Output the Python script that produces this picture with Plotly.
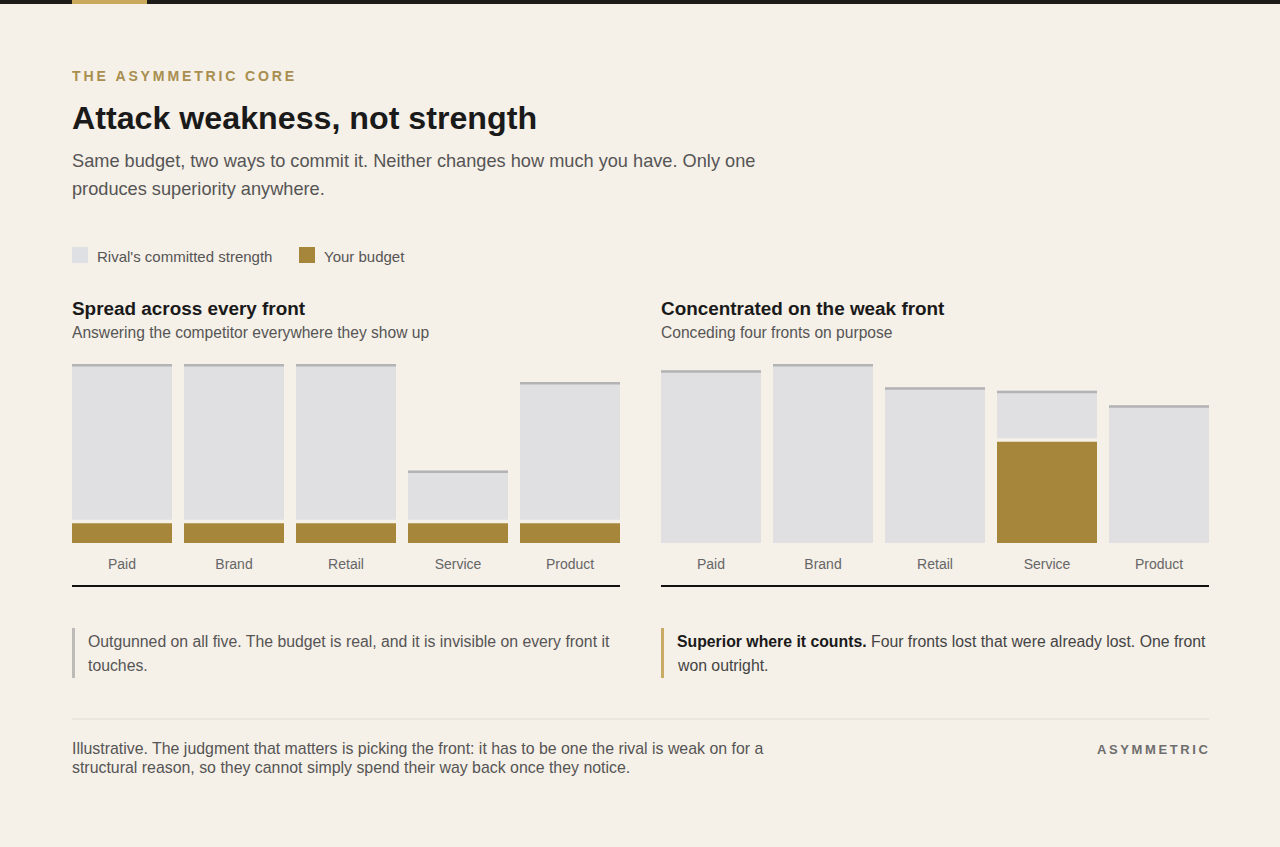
import plotly.graph_objects as go

# ---------------- data ----------------
fronts = ["Paid", "Brand", "Retail", "Service", "Product"]
# Spread across every front
spread_rival = [100, 100, 100, 40.5, 90]
spread_budget = [11, 11, 11, 11, 11]
# Concentrated on the weak front
conc_rival = [96.5, 100, 87, 85, 77]
conc_budget = [0, 0, 0, 56.5, 0]

legend_labels = ["Rival's committed strength", "Your budget"]

W, H = 1280, 847
BG = "#f5f0e8"
GRAY = "#e0e0e2"
CAP = "#b3b3b6"
GOLD = "#a5863a"
DARK = "#1a1a1a"
MID = "#555555"
FONT = "Liberation Sans, Arial, sans-serif"
CAP_H = 1.4
GAP = 2.0


def px(x):
    return x / W


def py(y):
    return 1 - y / H


def spaced(s):
    return "\u2009".join(list(s))


fig = go.Figure()


def add_panel(rival, budget, xa, ya):
    base = [b + GAP if b > 0 else 0 for b in budget]
    fig.add_trace(go.Bar(x=fronts, y=[r - b for r, b in zip(rival, base)], base=base,
                         marker=dict(color=GRAY, line=dict(width=0)),
                         xaxis=xa, yaxis=ya, showlegend=False, hoverinfo="skip", cliponaxis=False))
    fig.add_trace(go.Bar(x=fronts, y=[CAP_H] * len(rival), base=[r - CAP_H for r in rival],
                         marker=dict(color=CAP, line=dict(width=0)),
                         xaxis=xa, yaxis=ya, showlegend=False, hoverinfo="skip", cliponaxis=False))
    fig.add_trace(go.Bar(x=fronts, y=[b if b > 0 else None for b in budget],
                         marker=dict(color=GOLD, line=dict(width=0)),
                         xaxis=xa, yaxis=ya, showlegend=False, hoverinfo="skip", cliponaxis=False))


add_panel(spread_rival, spread_budget, "x", "y")
add_panel(conc_rival, conc_budget, "x2", "y2")

ydom = [py(543), py(364)]
axis_common = dict(showgrid=False, zeroline=False, showline=False, ticks="",
                   tickfont=dict(family=FONT, size=14, color="#666666"),
                   ticklabelstandoff=11, fixedrange=True)
yaxis_common = dict(showgrid=False, zeroline=False, showline=False, showticklabels=False,
                    range=[0, 100], fixedrange=True)

fig.update_layout(
    width=W, height=H,
    margin=dict(l=0, r=0, t=0, b=0),
    paper_bgcolor=BG, plot_bgcolor=BG,
    barmode="overlay", bargap=12 / 112,
    showlegend=False,
    xaxis=dict(domain=[px(66), px(626)], range=[-0.5, 4.5], **axis_common),
    xaxis2=dict(domain=[px(655), px(1215)], range=[-0.5, 4.5], **axis_common),
    yaxis=dict(domain=ydom, anchor="x", **yaxis_common),
    yaxis2=dict(domain=ydom, anchor="x2", **yaxis_common),
)

shapes = []
# top band
shapes.append(dict(type="rect", xref="paper", yref="paper", x0=0, x1=1, y0=py(4), y1=py(0),
                   fillcolor="#1d1b18", line=dict(width=0)))
shapes.append(dict(type="rect", xref="paper", yref="paper", x0=px(72), x1=px(147), y0=py(4), y1=py(0),
                   fillcolor="#c9a95c", line=dict(width=0)))
# legend swatches
shapes.append(dict(type="rect", xref="paper", yref="paper", x0=px(72), x1=px(88), y0=py(263), y1=py(247),
                   fillcolor="#dfe0e3", line=dict(width=0)))
shapes.append(dict(type="rect", xref="paper", yref="paper", x0=px(299), x1=px(315), y0=py(263), y1=py(247),
                   fillcolor=GOLD, line=dict(width=0)))
# panel base lines
for x0, x1 in [(72, 620), (661, 1209)]:
    shapes.append(dict(type="line", xref="paper", yref="paper", x0=px(x0), x1=px(x1), y0=py(586), y1=py(586),
                       line=dict(color="#111111", width=2)))
# caption rules
shapes.append(dict(type="line", xref="paper", yref="paper", x0=px(73.5), x1=px(73.5), y0=py(628), y1=py(678),
                   line=dict(color="#bdbbb8", width=3)))
shapes.append(dict(type="line", xref="paper", yref="paper", x0=px(662.5), x1=px(662.5), y0=py(628), y1=py(678),
                   line=dict(color="#c9ab66", width=3)))
# separator
shapes.append(dict(type="line", xref="paper", yref="paper", x0=px(72), x1=px(1209), y0=py(719), y1=py(719),
                   line=dict(color="#e2ddd3", width=1)))
fig.update_layout(shapes=shapes)


def txt(x, y, text, size, color=MID, bold=False, xanchor="left"):
    fig.add_annotation(xref="paper", yref="paper", x=px(x), y=py(y), text=("<b>%s</b>" % text) if bold else text,
                       showarrow=False, xanchor=xanchor, yanchor="middle", align=xanchor,
                       borderpad=0, borderwidth=0,
                       font=dict(family=FONT, size=size, color=color))


txt(72, 76, spaced("THE ASYMMETRIC CORE"), 14.1, "#a88e4f", bold=True)
txt(72, 118, "Attack weakness, not strength", 32.2, DARK, bold=True)
txt(72, 161, "Same budget, two ways to commit it. Neither changes how much you have. Only one", 18.2, MID)
txt(72, 189, "produces superiority anywhere.", 18.2, MID)

txt(97, 256, legend_labels[0], 15, MID)
txt(324, 256, legend_labels[1], 15, MID)

txt(72, 308, "Spread across every front", 18.9, DARK, bold=True)
txt(72, 333, "Answering the competitor everywhere they show up", 15.6, MID)
txt(661, 308, "Concentrated on the weak front", 18.9, DARK, bold=True)
txt(661, 333, "Conceding four fronts on purpose", 15.6, MID)

txt(88, 641, "Outgunned on all five. The budget is real, and it is invisible on every front it", 15.8, MID)
txt(88, 665, "touches.", 15.8, MID)
txt(677, 641, "<b style='color:#1a1a1a'>Superior where it counts.</b> Four fronts lost that were already lost. One front", 15.8, "#444444")
txt(677, 665, "won outright.", 15.8, "#444444")

txt(72, 748, "Illustrative. The judgment that matters is picking the front: it has to be one the rival is weak on for a", 15.9, MID)
txt(72, 767, "structural reason, so they cannot simply spend their way back once they notice.", 15.9, MID)
txt(1208, 749, spaced("ASYMMETRIC"), 13, "#6e6e6e", bold=True, xanchor="right")

fig.write_html("out.html")
